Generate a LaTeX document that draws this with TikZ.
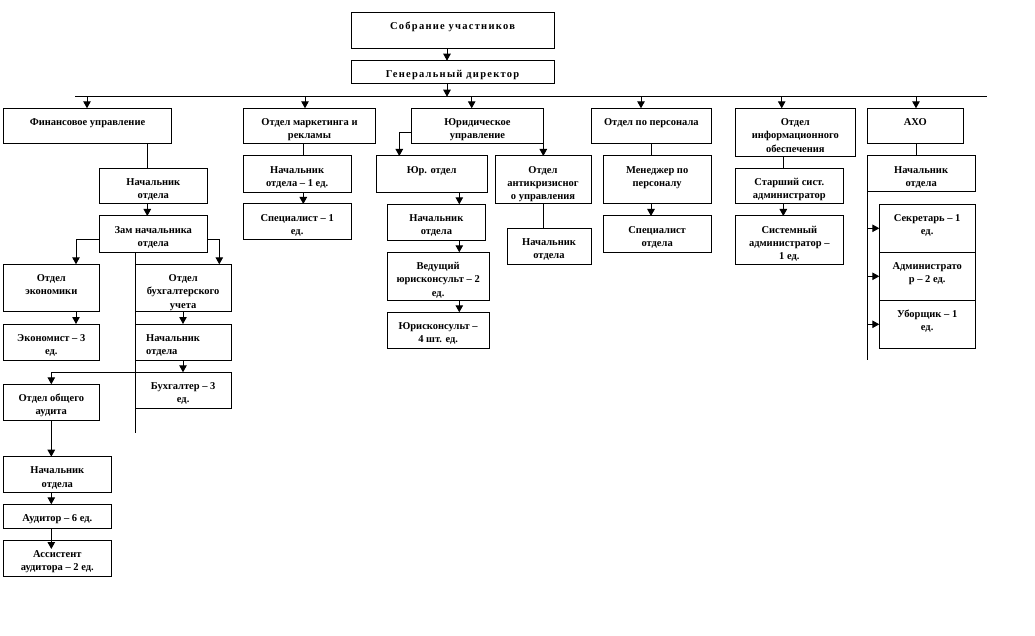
\documentclass[tikz,border=0pt]{standalone}
\usepackage{fontspec}
\setmainfont{Liberation Serif}
\newfontfamily\widefont[LetterSpace=12]{Liberation Serif}
\usetikzlibrary{arrows.meta,calc}
\tikzset{
  box/.style={draw, line width=1pt, inner sep=0pt, outer sep=0pt, anchor=north west},
  lbl/.style={inner sep=0pt, align=center, font=\fontsize{10.5}{13.3}\selectfont\bfseries, anchor=north},
  lblw/.style={lbl, font=\fontsize{10.5}{13.3}\selectfont\widefont\bfseries},
  lbll/.style={lbl, align=left, anchor=north west},
  conn/.style={line width=1pt},
  arr/.style={conn, -{Triangle[width=7.5pt,length=7pt]}},
}
\newcommand\obox[7][lbl]{%
  \node[box, minimum width={#5-#3}, minimum height={#6-#4}] (#2) at (#3,#4) {};
  \node[#1] (#2t) at ($(#2.north)+(0,7)$) {\rule{0pt}{10pt}#7};
}
\newcommand\lbox[6]{%
  \node[box, minimum width={#4-#2}, minimum height={#5-#3}] (#1) at (#2,#3) {};
  \node[lbll] (#1t) at ($(#1.north west)+(11,7)$) {\rule{0pt}{10pt}#6};
}
\begin{document}
\begin{tikzpicture}[x=1pt,y=-1pt]
\fill[white] (0,0) rectangle (1035,636);
\useasboundingbox (0,0) rectangle (1035,636);

% top
\obox[lblw]{sob}{351}{12.3}{554}{48.3}{Собрание участников}
\obox[lblw]{gen}{351}{60.7}{554}{83.7}{Генеральный директор}

% first level
\obox{fin}{3.3}{108.3}{171.7}{144}{Финансовое управление}
\obox{mkt}{243.3}{108.3}{375.7}{144}{Отдел маркетинга и\\рекламы}
\obox{yur}{411.7}{108.3}{543.3}{144}{Юридическое\\управление}
\obox{per}{591.7}{108.3}{711}{144}{Отдел по персонала}
\obox{inf}{735.3}{108.3}{855.3}{156.3}{Отдел\\информационного\\обеспечения}
\obox{axo}{867.3}{108.3}{963.3}{144}{АХО}

% finance
\obox{nfin}{99.3}{168.3}{207.3}{204}{Начальник\\отдела}
\obox{zam}{99.3}{216}{207.3}{252.3}{Зам начальника\\отдела}
\obox{eco}{3.3}{264.3}{99.3}{311.3}{Отдел\\экономики}
\obox{bux}{135}{264.3}{231.3}{311.3}{Отдел\\бухгалтерского\\учета}
\obox{ekon}{3.3}{324}{99.3}{360.3}{Экономист – 3\\ед.}
\lbox{nbux}{135}{324}{231.3}{360.3}{Начальник\\отдела}
\obox{buh}{135}{372.3}{231.3}{408.3}{Бухгалтер – 3\\ед.}
\obox{aud}{3.3}{384.3}{99.3}{420.3}{Отдел общего\\аудита}
\obox{naud}{3.3}{456.7}{111.3}{492.3}{Начальник\\отдела}
\obox{audr}{3.3}{504.3}{111.3}{528.3}{Аудитор – 6 ед.}
\obox{asst}{3.3}{540.3}{111.3}{576.3}{Ассистент\\аудитора – 2 ед.}

% marketing
\obox{nmkt}{243.3}{156}{351}{192.3}{Начальник\\отдела – 1 ед.}
\obox{spec}{243.3}{204}{351}{240}{Специалист – 1\\ед.}

% legal
\obox{yo}{376}{156}{487.3}{192.3}{Юр. отдел}
\obox{ak}{495}{156}{591}{204}{Отдел\\антикризисног\\о управления}
\obox{nyo}{387.3}{204.3}{485.5}{240.3}{Начальник\\отдела}
\obox{ved}{387.3}{252.3}{489}{300.3}{Ведущий\\юрисконсульт – 2\\ед.}
\obox{yk}{387.3}{312.3}{489}{348.7}{Юрисконсульт –\\4 шт. ед.}
\obox{nak}{507}{228.3}{591}{264}{Начальник\\отдела}

% personnel
\obox{men}{603.3}{156}{711}{204}{Менеджер по\\персоналу}
\obox{spo}{603.3}{216}{711}{252.3}{Специалист\\отдела}

% info
\obox{st}{735.3}{168.3}{843.3}{204}{Старший сист.\\администратор}
\obox{sys}{735.3}{216}{843.3}{264.3}{Системный\\администратор –\\1 ед.}

% AXO
\obox{nax}{867.3}{156}{975}{191.7}{Начальник\\отдела}
\obox{sec}{879.3}{204.3}{975}{252.3}{Секретарь – 1\\ед.}
\obox{adm}{879.3}{252.3}{975}{300.3}{Администрато\\р – 2 ед.}
\obox{ubo}{879.3}{300.3}{975}{348.3}{Уборщик – 1\\ед.}

% guide coordinates
\coordinate (vG) at (447,0);
\coordinate (busL) at (75,96.7);
\coordinate (busR) at (987.3,96.7);
\coordinate (vFin) at (87,0);
\coordinate (vMkt) at (305,0);
\coordinate (vYur) at (471.7,0);
\coordinate (vPer) at (641,0);
\coordinate (vInf) at (781.7,0);
\coordinate (vAxo) at (916,0);
\coordinate (vF2) at (147.3,0);
\coordinate (hZ) at (0,240);
\coordinate (vEc) at (76,0);
\coordinate (vBu) at (219.3,0);
\coordinate (vBu2) at (183,0);
\coordinate (vMid) at (135,0);
\coordinate (midEnd) at (135,432.7);
\coordinate (vAu) at (51.3,0);
\coordinate (vMk2) at (303.3,0);
\coordinate (hY) at (0,132.3);
\coordinate (vYl) at (399.3,0);
\coordinate (vYr) at (543.3,0);
\coordinate (vYo) at (459.3,0);
\coordinate (vAk) at (543.3,0);
\coordinate (vPe2) at (651,0);
\coordinate (vIn2) at (783.3,0);
\coordinate (vAx2) at (867.3,0);
\coordinate (axEnd) at (867.3,360);

% connectors: top
\draw[arr] (sob.south -| vG) -- (gen.north -| vG);
\draw[arr] (gen.south -| vG) -- (busL -| vG);
\draw[conn] (busL) -- (busR);
\foreach \n/\v in {fin/vFin, mkt/vMkt, yur/vYur, per/vPer, inf/vInf, axo/vAxo}
  \draw[arr] (busL -| \v) -- (\n.north -| \v);

% finance
\draw[conn] (fin.south -| vF2) -- (nfin.north -| vF2);
\draw[arr] (nfin.south -| vF2) -- (zam.north -| vF2);
\draw[arr] (zam.west |- hZ) -| (eco.north -| vEc);
\draw[arr] (zam.east |- hZ) -| (bux.north -| vBu);
\draw[conn] (zam.south -| vMid) -- (midEnd);
\draw[arr] (eco.south -| vEc) -- (ekon.north -| vEc);
\draw[arr] (bux.south -| vBu2) -- (nbux.north -| vBu2);
\draw[arr] (nbux.south -| vBu2) -- (buh.north -| vBu2);
\draw[arr] (buh.north -| vMid) -| (aud.north -| vAu);
\draw[arr] (aud.south -| vAu) -- (naud.north -| vAu);
\draw[arr] (naud.south -| vAu) -- (audr.north -| vAu);
\draw[arr] (audr.south -| vAu) -- ($(asst.north -| vAu)+(0,8.7)$);

% marketing
\draw[conn] (mkt.south -| vMk2) -- (nmkt.north -| vMk2);
\draw[arr] (nmkt.south -| vMk2) -- (spec.north -| vMk2);

% legal
\draw[arr] (yur.west |- hY) -| (yo.north -| vYl);
\draw[arr] (yur.east |- hY) -| (ak.north -| vYr);
\draw[arr] (yo.south -| vYo) -- (nyo.north -| vYo);
\draw[arr] (nyo.south -| vYo) -- (ved.north -| vYo);
\draw[arr] (ved.south -| vYo) -- (yk.north -| vYo);
\draw[conn] (ak.south -| vAk) -- (nak.north -| vAk);

% personnel
\draw[conn] (per.south -| vPe2) -- (men.north -| vPe2);
\draw[arr] (men.south -| vPe2) -- (spo.north -| vPe2);

% info
\draw[conn] (inf.south -| vIn2) -- (st.north -| vIn2);
\draw[arr] (st.south -| vIn2) -- (sys.north -| vIn2);

% AXO
\draw[conn] (axo.south -| vAxo) -- (nax.north -| vAxo);
\draw[conn] (nax.south west) -- (axEnd);
\foreach \n in {sec, adm, ubo}
  \draw[arr] (\n.west -| vAx2) -- (\n.west);
\end{tikzpicture}
\end{document}
